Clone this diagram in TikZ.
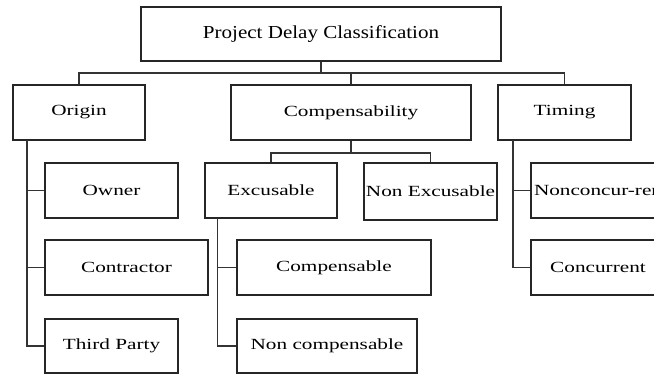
\documentclass[tikz,border=0pt]{standalone}
\usepackage{fontspec}
\setmainfont{Liberation Serif}[FakeStretch=1.37]
\newfontfamily\titlefont{Liberation Serif}[FakeStretch=1.15]
\begin{document}
\begin{tikzpicture}[x=1pt,y=1pt,
  box/.style={draw=black!85,line width=1.3pt,inner sep=0pt,minimum height=55pt,
    font=\fontsize{15.5}{18}\selectfont},
  conn/.style={draw=black!80,line width=1.2pt}]
\useasboundingbox (0,0) rectangle (654,-374);
\clip (0,0) rectangle (654,-374);
% boxes
\node[box,minimum width=360pt,minimum height=54pt,font=\titlefont\fontsize{18.3}{20}\selectfont] (title) at (321,-34) {Project Delay Classification};
\node[box,minimum width=132pt] (origin) at (79,-112.5) {Origin};
\node[box,minimum width=240pt] (comp) at (351,-112.5) {Compensability};
\node[box,minimum width=133pt] (timing) at (564.5,-112.5) {Timing};
\node[box,minimum width=133pt] (owner) at (111.5,-190.5) {Owner};
\node[box,minimum width=163pt] (contractor) at (126.5,-267.5) {Contractor};
\node[box,minimum width=133pt,minimum height=54pt] (third) at (111.5,-346) {Third Party};
\node[box,minimum width=132pt] (exc) at (271,-190.5) {Excusable};
\node[box,minimum width=133pt,minimum height=57pt] (nonexc) at (430.5,-191.5) {Non Excusable};
\node[box,minimum width=194pt] (compens) at (334,-267.5) {Compensable};
\node[box,minimum width=180pt,minimum height=54pt] (noncomp) at (327,-346) {Non compensable};
\node[box,minimum width=160pt,text width=154pt,align=left] (noncon) at (611,-190.5) {Nonconcur-ren};
\node[box,minimum width=134pt] (concur) at (598,-267.5) {Concurrent};
% connectors
\coordinate (busY) at (0,-73);
\draw[conn] (title.south) -- (title.south |- busY);
\draw[conn] (origin.north) -- (origin.north |- busY) -- (timing.north |- busY) -- (timing.north);
\draw[conn] (comp.north) -- (comp.north |- busY);
% origin trunk
\coordinate (ot) at (27,-140);
\draw[conn] (ot) |- (third.west);
\draw[conn] (ot |- owner.west) -- (owner.west);
\draw[conn] (ot |- contractor.west) -- (contractor.west);
% compensability
\coordinate (cb) at (351,-153);
\draw[conn] (comp.south) -- (cb);
\draw[conn] (exc.north) |- (cb) -| (nonexc.north);
% excusable trunk
\coordinate (et) at (217.5,-218);
\draw[conn] (et) |- (noncomp.west);
\draw[conn] (et |- compens.west) -- (compens.west);
% timing trunk
\coordinate (tt) at (513,-140);
\draw[conn] (tt) |- (concur.west);
\draw[conn] (tt |- noncon.west) -- (noncon.west);
\end{tikzpicture}
\end{document}
